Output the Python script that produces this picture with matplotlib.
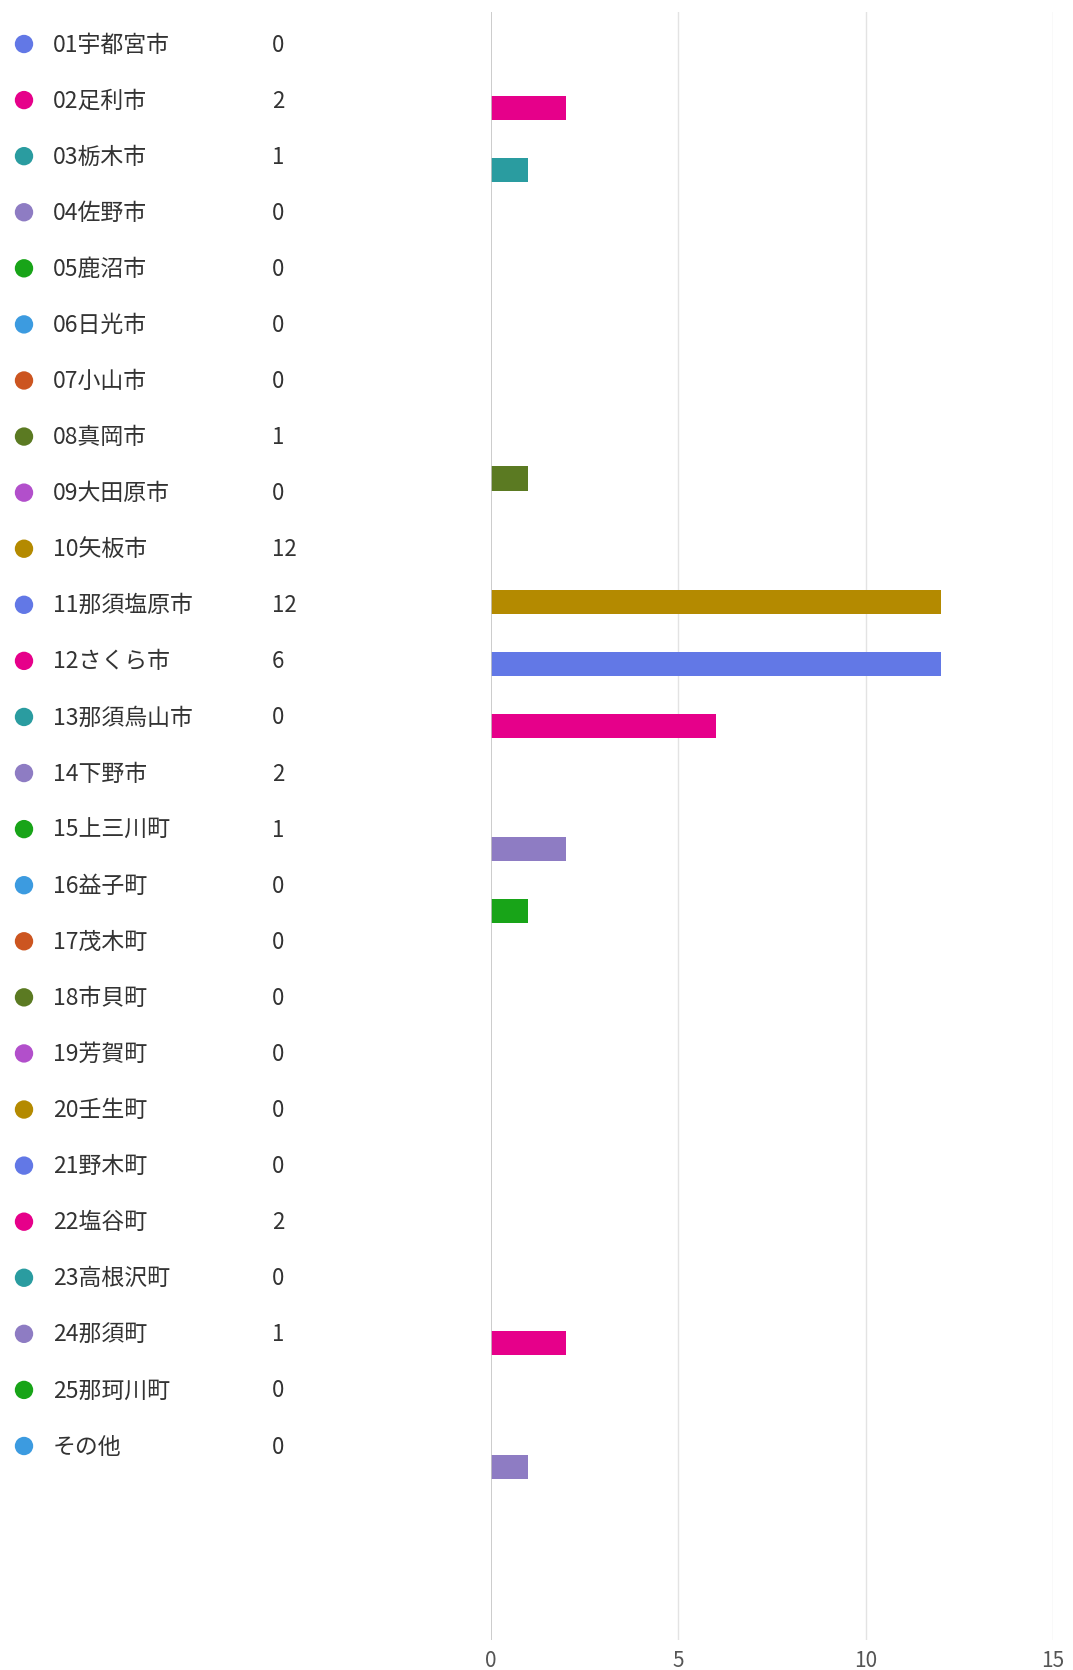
import numpy as np
import matplotlib
matplotlib.use('Agg')
import matplotlib.pyplot as plt

plt.rcParams['font.family'] = ['Noto Sans CJK JP', 'DejaVu Sans']

names = ['01宇都宮市', '02足利市', '03栃木市', '04佐野市', '05鹿沼市', '06日光市',
         '07小山市', '08真岡市', '09大田原市', '10矢板市', '11那須塩原市', '12さくら市',
         '13那須烏山市', '14下野市', '15上三川町', '16益子町', '17茂木町', '18市貝町',
         '19芳賀町', '20壬生町', '21野木町', '22塩谷町', '23高根沢町', '24那須町',
         '25那珂川町', 'その他']
counts = [0, 2, 1, 0, 0, 0, 0, 1, 0, 12, 12, 6, 0, 2, 1, 0, 0, 0, 0, 0, 0, 2, 0, 1, 0, 0]

palette = ['#6278e6', '#e6008a', '#2a9ca0', '#8e7cc3', '#18a418',
           '#3c9be0', '#cc5520', '#5b7a22', '#b24fcb', '#b48a00']
colors = [palette[i % len(palette)] for i in range(len(names))]

xticks = [0, 5, 10, 15]

W, H = 1073, 1670
fig = plt.figure(figsize=(W / 100, H / 100), dpi=100)

# bar panel, placed in pixel units
left, right, top, bottom = 491, 1053, 12, 1640
ax = fig.add_axes([left / W, 1 - bottom / H, (right - left) / W, (bottom - top) / H])

y = np.arange(len(names))
ax.barh(y, counts, height=0.39, color=colors, linewidth=0, zorder=3)
ax.set_ylim(25.8, -0.55)
ax.set_xlim(0, 15)
ax.set_yticks([])
ax.set_xticks(xticks)
ax.set_xticklabels([str(t) for t in xticks], fontsize=15, color='#555555')
ax.tick_params(axis='x', length=0, pad=7)
for s in ax.spines.values():
    s.set_visible(False)
for t in xticks[1:]:
    ax.axvline(t, color='#e3e3e3', lw=1, zorder=1)
ax.axvline(0, color='#c4c4c4', lw=1.2, zorder=4)

# legend column on the left, drawn in a pixel-space overlay
lg = fig.add_axes([0, 0, 1, 1], zorder=-1)
lg.set_xlim(0, W)
lg.set_ylim(H, 0)
lg.axis('off')

y0, dy = 44, 56.08
rows = y0 + dy * np.arange(len(names))
lg.scatter(np.full(len(names), 24), rows, s=175, c=colors, linewidths=0)
for yy, n, v in zip(rows, names, counts):
    lg.text(53, yy + 1, n, fontsize=16.5, color='#333333', va='center', ha='left')
    lg.text(272, yy + 1, str(v), fontsize=16, color='#333333', va='center', ha='left')

fig.savefig('out.png', dpi=100, facecolor='white')
